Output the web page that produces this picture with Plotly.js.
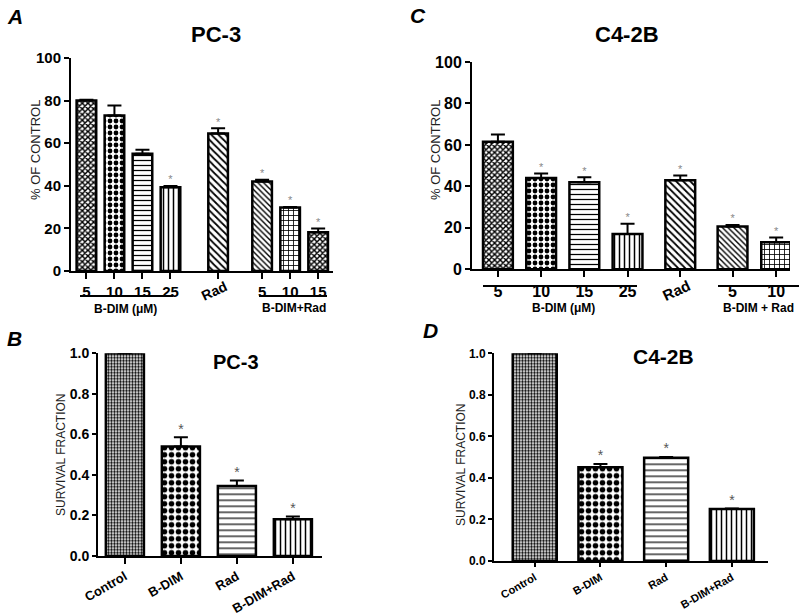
<!DOCTYPE html>
<html>
<head>
<meta charset="utf-8">
<script src="https://cdn.plot.ly/plotly-3.0.1.min.js"></script>
<style>
	html, body { margin: 0; padding: 0; background: #fff; }
	#chart { width: 800px; height: 615px; }
</style>
</head>
<body>
<div id="chart"></div>
<script>
// H| data
// A : PC-3, % of control
const labelsA = ['5', '10', '15', '25', 'Rad', '5', '10', '15']
const valuesA = [80, 73, 55, 39.3, 64.6, 42, 29.8, 18.2]
const errorsA = [0.4, 4.7, 1.9, 0.6, 2.4, 0.8, 0.3, 1.7]
const starsA = [0, 0, 0, 1, 1, 1, 1, 1]

// C : C4-2B, % of control
const labelsC = ['5', '10', '15', '25', 'Rad', '5', '10']
const valuesC = [61.5, 44, 42, 17, 43, 20.6, 13]
const errorsC = [3.5, 2.2, 2.4, 5, 2.3, 0.8, 2.3]
const starsC = [0, 1, 1, 1, 1, 1, 1]

// B : PC-3, survival fraction
const labelsB = ['Control', 'B-DIM', 'Rad', 'B-DIM+Rad']
const valuesB = [1.0, 0.54, 0.345, 0.181]
const errorsB = [0, 0.046, 0.027, 0.014]
const starsB = [0, 1, 1, 1]

// D : C4-2B, survival fraction
const labelsD = ['Control', 'B-DIM', 'Rad', 'B-DIM+Rad']
const valuesD = [1.0, 0.451, 0.497, 0.25]
const errorsD = [0, 0.016, 0.004, 0.003]
const starsD = [0, 1, 1, 1]


// H| layout helpers (slot positions, patterns)
const slotsA = [0, 1, 2, 3, 4.7, 6.27, 7.27, 8.27]
const slotsC = [0, 1, 2, 3, 4.22, 5.43, 6.44]

const FONT = 'Liberation Sans, Arial, sans-serif'
const NARROW = 'Liberation Sans Narrow, Liberation Sans, Arial, sans-serif'

const W = 800, H = 615
const px = x => x / W
const py = y => 1 - y / H

function barTrace(xs, values, errors, ax, width, pattern) {
	return {
		type: 'bar',
		x: xs,
		y: values,
		xaxis: 'x' + ax,
		yaxis: 'y' + ax,
		width: width,
		marker: {
			color: '#fff',
			line: { color: '#000', width: 2.5 },
			pattern: {
				shape: pattern.shape,
				size: pattern.size,
				solidity: pattern.solidity,
				fgcolor: '#000',
				bgcolor: '#fff',
				fillmode: 'replace'
			}
		},
		error_y: {
			type: 'data',
			symmetric: false,
			array: errors,
			arrayminus: errors.map(() => 0),
			color: '#000',
			thickness: 2,
			width: 7
		},
		hoverinfo: 'skip'
	}
}

function starTrace(xs, values, errors, stars, ax, size, color) {
	return {
		type: 'scatter',
		mode: 'text',
		x: xs,
		y: values.map((v, i) => v + errors[i]),
		text: stars.map(s => s ? '*' : ''),
		textposition: 'top center',
		textfont: { family: FONT, size: size, color: color },
		xaxis: 'x' + ax,
		yaxis: 'y' + ax,
		hoverinfo: 'skip'
	}
}

const patA = {
	shape: ['x', '.', '-', '|', '\\', '\\', '+', 'x'],
	size: [4, 6, 5, 5, 5, 4, 5, 4],
	solidity: [0.6, 0.5, 0.25, 0.3, 0.35, 0.35, 0.3, 0.6]
}
const patC = {
	shape: ['x', '.', '-', '|', '\\', '\\', '+'],
	size: [4, 6, 5, 5, 5, 4, 5],
	solidity: [0.6, 0.5, 0.25, 0.3, 0.35, 0.35, 0.3]
}
const patBD = {
	shape: ['.', '.', '-', '|'],
	size: [3, 7, 6, 5],
	solidity: [0.5, 0.5, 0.2, 0.3]
}

const data = [
	barTrace(slotsA, valuesA, errorsA, '', 0.7, patA),
	starTrace(slotsA, valuesA, errorsA, starsA, '', 11, '#888'),
	barTrace(slotsC, valuesC, errorsC, '2', 0.69, patC),
	starTrace(slotsC, valuesC, errorsC, starsC, '2', 11, '#888'),
	barTrace(labelsB, valuesB, errorsB, '3', 0.68, patBD),
	starTrace(labelsB, valuesB, errorsB, starsB, '3', 14, '#555'),
	barTrace(labelsD, valuesD, errorsD, '4', 0.67, patBD),
	starTrace(labelsD, valuesD, errorsD, starsD, '4', 14, '#555')
]


// H| axes
function xAxis(domain, range, tickvals, ticktext, angle, fontSize, ticklen, anchor) {
	return {
		domain: domain,
		range: range,
		anchor: anchor,
		tickmode: 'array',
		tickvals: tickvals,
		ticktext: ticktext,
		tickangle: angle,
		ticks: 'outside',
		ticklen: ticklen,
		tickwidth: 2,
		tickcolor: '#000',
		tickfont: { family: FONT, size: fontSize, color: '#000', weight: 700 },
		showline: true,
		linewidth: 2,
		linecolor: '#000',
		showgrid: false,
		zeroline: false,
		fixedrange: true
	}
}

function yAxis(domain, range, dtick, fmt, family, fontSize, ticklen, anchor) {
	return {
		domain: domain,
		range: range,
		anchor: anchor,
		dtick: dtick,
		tick0: 0,
		tickformat: fmt,
		ticks: 'outside',
		ticklen: ticklen,
		tickwidth: 2,
		tickcolor: '#000',
		tickfont: { family: family, size: fontSize, color: '#000', weight: 700 },
		showline: true,
		linewidth: 2,
		linecolor: '#000',
		showgrid: false,
		zeroline: false,
		fixedrange: true
	}
}

// Rad label in A and C is drawn tilted on its own
const tickTextA = labelsA.map(l => l == 'Rad' ? '' : l)
const tickTextC = labelsC.map(l => l == 'Rad' ? '' : l)

function note(text, x, y, size, opts) {
	return Object.assign({
		text: text, x: px(x), y: py(y), xref: 'paper', yref: 'paper',
		showarrow: false, xanchor: 'center', yanchor: 'middle',
		font: { family: FONT, size: size, color: '#000', weight: 700 }
	}, opts || {})
}

const axisTitleFont = size => ({ family: FONT, size: size, color: '#222' })

const annotations = [
	note('<i>A</i>', 15, 17, 21),
	note('<i>C</i>', 418, 15, 21),
	note('<i>B</i>', 14, 338, 21),
	note('<i>D</i>', 430, 330, 21),
	note('PC-3', 216, 34, 22),
	note('C4-2B', 627, 34, 22),
	note('PC-3', 236, 362, 20),
	note('C4-2B', 663, 356, 21),
	note('% OF CONTROL', 35, 150, 13, { textangle: -90, font: axisTitleFont(13) }),
	note('% OF CONTROL', 435, 150, 13, { textangle: -90, font: axisTitleFont(13) }),
	note('SURVIVAL FRACTION', 61, 455, 12, { textangle: -90, font: axisTitleFont(12) }),
	note('SURVIVAL FRACTION', 461, 465, 12, { textangle: -90, font: axisTitleFont(12) }),
	note('Rad', 214, 291, 14, { textangle: -25 }),
	note('Rad', 676, 290, 15, { textangle: -25 }),
	note('B-DIM (μM)', 125, 309, 12),
	note('B-DIM+Rad', 294, 308, 12),
	note('B-DIM (μM)', 563, 308, 12),
	note('B-DIM + Rad', 758, 308, 12)
]

function hline(x0, x1, y) {
	return {
		type: 'line', xref: 'paper', yref: 'paper',
		x0: px(x0), x1: px(x1), y0: py(y), y1: py(y),
		line: { color: '#000', width: 2 }
	}
}

const shapes = [
	hline(80, 173, 296),
	hline(259, 327, 296),
	hline(483, 637, 286),
	hline(718, 799, 286)
]

const layout = {
	width: W,
	height: H,
	margin: { l: 0, r: 0, t: 0, b: 0 },
	paper_bgcolor: '#fff',
	plot_bgcolor: 'rgba(0,0,0,0)',
	showlegend: false,
	bargap: 0,

	xaxis: xAxis([px(71), px(333)], [-0.55, 8.8], slotsA, tickTextA, 0, 15, 6, 'y'),
	yaxis: yAxis([py(271), py(58)], [0, 100], 20, '', FONT, 15, 5, 'x'),

	xaxis2: xAxis([px(472), px(790)], [-0.6, 6.76], slotsC, tickTextC, 0, 16, 6, 'y2'),
	yaxis2: yAxis([py(269.3), py(62)], [0, 100], 20, '', FONT, 16, 5, 'x2'),

	xaxis3: xAxis([px(98), px(322)], [-0.48, 3.52], labelsB, labelsB, -30, 13, 6, 'y3'),
	yaxis3: yAxis([py(556), py(353.3)], [0, 1], 0.2, '.1f', NARROW, 14, 4, 'x3'),

	xaxis4: xAxis([px(494), px(768)], [-0.62, 3.55], labelsD, labelsD, -30, 11, 4, 'y4'),
	yaxis4: yAxis([py(561), py(353.3)], [0, 1], 0.2, '.1f', NARROW, 12, 4, 'x4'),

	annotations: annotations,
	shapes: shapes
}

Plotly.newPlot('chart', data, layout, {
	displayModeBar: false,
	staticPlot: true
})
</script>
</body>
</html>
